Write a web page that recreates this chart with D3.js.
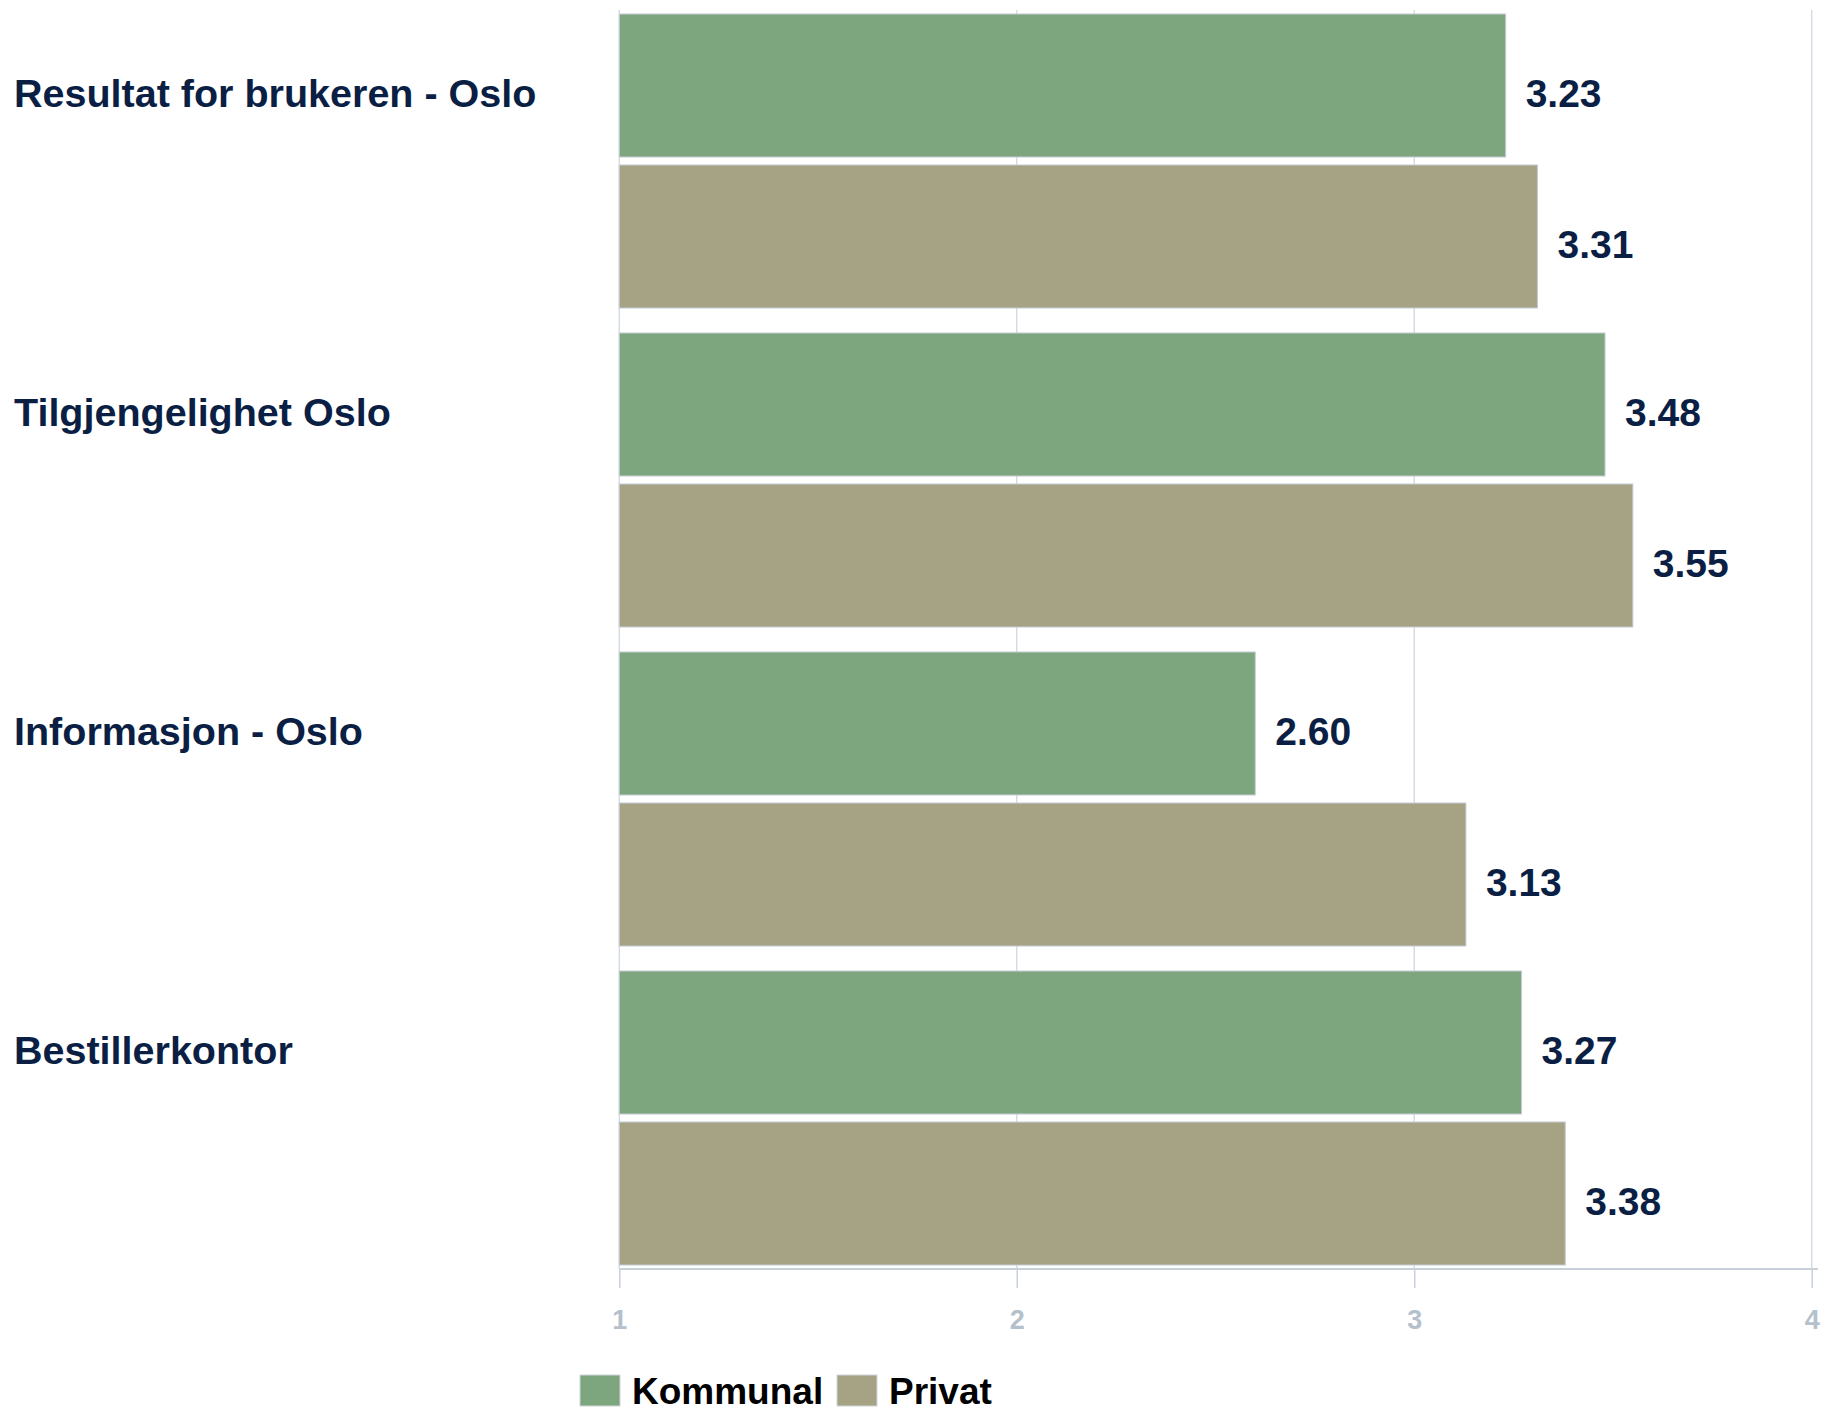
<!DOCTYPE html>
<html>
<head>
<meta charset="utf-8">
<script src="https://cdn.jsdelivr.net/npm/d3@7"></script>
<style>
  body { margin: 0; background: #fff; }
  svg { display: block; font-family: "Liberation Sans", Arial, sans-serif; }
</style>
</head>
<body>
<div class="svg"></div>
<script>
const categories = ["Resultat for brukeren - Oslo", "Tilgjengelighet Oslo", "Informasjon - Oslo", "Bestillerkontor"];
const seriesNames = ["Kommunal", "Privat"];
const kommunal = [3.23, 3.48, 2.60, 3.27];
const privat = [3.31, 3.55, 3.13, 3.38];
const tickValues = [1, 2, 3, 4];

const width = 1821;
const height = 1411;
const colors = { Kommunal: "#7ea67e", Privat: "#a6a284" };
const textColor = "#0b1f44";

let svg = d3.select(".svg").append("svg").attr("width", width).attr("height", height);

let scaleX = d3.scaleLinear().domain([1, 4]).range([619.3, 1811.7]);
let scaleY = d3.scaleBand().domain(categories).range([14, 1265]).paddingInner(25 / 319).paddingOuter(0);
let scaleInner = d3.scaleBand().domain(seriesNames).range([0, scaleY.bandwidth()]).paddingInner(8 / 151);

let axisTop = 10;
let axisY = 1269;

// vertical grid lines
svg.append("g").selectAll("line").data(tickValues).enter().append("line")
  .attr("x1", d => scaleX(d)).attr("x2", d => scaleX(d))
  .attr("y1", axisTop).attr("y2", axisY)
  .attr("stroke", "#d6dce4").attr("stroke-width", 1.5);

// bars
let rows = categories.map((c, i) => ({ cat: c, values: [
  { name: "Kommunal", v: kommunal[i] },
  { name: "Privat", v: privat[i] }
]}));

let groups = svg.append("g").selectAll("g").data(rows).enter().append("g")
  .attr("transform", d => "translate(0," + scaleY(d.cat) + ")");

groups.selectAll("rect").data(d => d.values).enter().append("rect")
  .attr("x", scaleX(1))
  .attr("y", d => scaleInner(d.name))
  .attr("width", d => scaleX(d.v) - scaleX(1))
  .attr("height", scaleInner.bandwidth())
  .attr("fill", d => colors[d.name])
  .attr("stroke", "#c4cbd3").attr("stroke-width", 1);

groups.selectAll("text.val").data(d => d.values).enter().append("text")
  .attr("class", "val")
  .attr("x", d => scaleX(d.v) + 20)
  .attr("y", d => scaleInner(d.name) + scaleInner.bandwidth() / 2 + 21.5)
  .attr("fill", textColor)
  .attr("font-size", 39).attr("font-weight", "bold")
  .text(d => d.v.toFixed(2));

// category labels
groups.append("text")
  .attr("x", 14)
  .attr("y", scaleInner("Kommunal") + scaleInner.bandwidth() / 2 + 21.5)
  .attr("fill", textColor)
  .attr("font-size", 39.5).attr("font-weight", "bold")
  .text(d => d.cat);

// x axis
let ax = d3.axisBottom(scaleX).tickValues(tickValues).tickFormat(d3.format("d")).tickSize(19).tickPadding(22);
let gx = svg.append("g").attr("transform", "translate(0," + axisY + ")").call(ax);
gx.attr("font-size", null).attr("font-family", null);
gx.select(".domain").attr("d", "M" + scaleX(1) + ",0H1818").attr("stroke", "#c8d0da").attr("stroke-width", 2);
gx.selectAll(".tick line").attr("stroke", "#c8d0da").attr("stroke-width", 1.5);
gx.selectAll(".tick text")
  .attr("fill", "#b5c0cd")
  .style("font-size", "27px").style("font-weight", "bold")
  .style("font-family", "'Liberation Sans', Arial, sans-serif");

// legend
let legendX = [580, 837];
let leg = svg.append("g").selectAll("g").data(seriesNames).enter().append("g")
  .attr("transform", (d, i) => "translate(" + legendX[i] + ",1375)");
leg.append("rect").attr("width", 40).attr("height", 31)
  .attr("fill", d => colors[d]).attr("stroke", "#d0d6dc").attr("stroke-width", 1);
leg.append("text").attr("x", 52).attr("y", 29)
  .attr("font-size", 37).attr("font-weight", "bold").attr("fill", "#000")
  .text(d => d);
</script>
</body>
</html>
